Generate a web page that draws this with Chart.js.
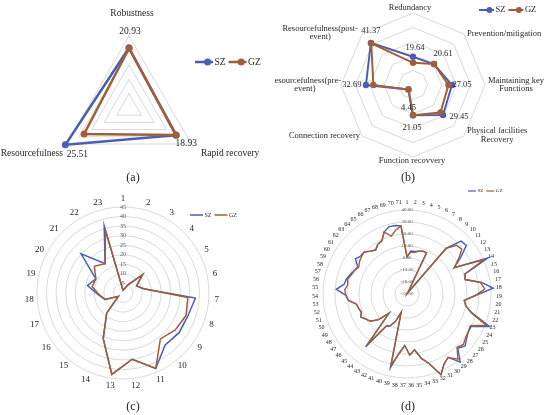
<!DOCTYPE html>
<html>
<head>
<meta charset="utf-8">
<script src="https://cdn.jsdelivr.net/npm/chart.js@4.4.1/dist/chart.umd.min.js"></script>
<style>
  body { margin: 0; background: #fff; }
  #page { position: relative; width: 550px; height: 415px; overflow: hidden; font-family: "Liberation Serif", serif; }
  canvas { position: absolute; }
  #chartA { left: 0; top: 0; }
  #chartB { left: 275px; top: 0; }
  #chartC { left: 0; top: 195px; }
  #chartD { left: 275px; top: 185px; }
  .cap { position: absolute; font-size: 12px; color: #222; transform: translate(-50%, -50%); }
</style>
</head>
<body>
<div id="page">
  <canvas id="chartA" width="275" height="195"></canvas>
  <canvas id="chartB" width="275" height="190"></canvas>
  <canvas id="chartC" width="275" height="220"></canvas>
  <canvas id="chartD" width="275" height="230"></canvas>
  <div class="cap" style="left:133px;top:177px">(a)</div>
  <div class="cap" style="left:408px;top:177px">(b)</div>
  <div class="cap" style="left:133px;top:406px">(c)</div>
  <div class="cap" style="left:408px;top:406px">(d)</div>
</div>
<script>
// (a) three dimensions
const dimLabels = ['Robustness', 'Rapid recovery', 'Resourcefulness'];
const dimSZ = [20.93, 18.93, 25.51];
const dimGZ = [20.7, 18.8, 18.0];

// (b) eight indicators
const indLabels = ['Redundancy', 'Prevention/mitigation', ['Maintaining key', 'Functions'],
  ['Physical facilities', 'Recovery'], 'Function recovvery', 'Connection recovery',
  ['Resourcefulness(pre-', 'event)'], ['Resourcefulness(post-', 'event)']];
const indSZ = [19.64, 20.61, 27.05, 29.45, 21.05, 4.45, 32.69, 41.37];
const indGZ = [15.4, 20.61, 24.6, 27.0, 21.05, 4.45, 27.5, 41.0];

// (c) 23 items
const itemLabels = ['1','2','3','4','5','6','7','8','9','10','11','12','13','14','15','16','17','18','19','20','21','22','23'];
const itemSZ = [1.5, 2, 5, 14, 8, 11, 38, 36, 36, 35, 43, 35, 43, 26, 13.5, 3, 10, 13, 19, 16, 30, 18, 36.5];
const itemGZ = [1.5, 2, 5, 14, 8, 11, 34, 35, 33.5, 31, 43, 35, 43, 26, 13.5, 3, 10, 12.5, 16.5, 16, 20.5, 18, 34];

// (d) 71 items
const subLabels = ['1','2','3','4','5','6','7','8','9','10','11','12','13','14','15','16','17','18','19','20',
  '21','22','23','24','25','26','27','28','29','30','31','32','33','34','35','36','37','38','39','40',
  '41','42','43','44','45','46','47','48','49','50','51','52','53','54','55','56','57','58','59','60',
  '61','62','63','64','65','66','67','68','69','70','71'];
const subSZ = [1, 6, 6, 7, 8, 8, -29, -28, 20, 33, 34, 24, 15, 44, 21, 20, 33, 42, 27, 18,
  20, 27, 44, 30, 30, 32, 35, 32, 42, 33, 36, 43, 31, 25, 17, 21, 13, 20, 33, -14,
  -5, 0, 2, 26, -8, 2, 8, 10, 13, 11, 12, 13, 19, 21, 29, 23, 22, 20, 18, 17,
  22, 20, 20, 17, 15, 18, 19, 25, 28, 28, 27];
const subGZ = [1, 5, 5, 7, 8, 8, -29, -28, 20, 28, 29, 22, 15, 40, 21, 20, 32, 35, 27, 18,
  20, 26, 41, 29, 30, 31, 33, 31, 39, 33, 36, 43, 31, 25, 17, 21, 13, 20, 31, -14,
  -5, 0, 2, 23, -8, 2, 8, 10, 13, 11, 12, 13, 19, 21, 22, 20, 21, 19, 18, 16,
  18, 19, 20, 17, 15, 18, 19, 25, 20, 24, 27];

const blue = '#4a5eb5';
const brown = '#9e5f3a';
const serif = '"Liberation Serif", serif';

const radarExtras = {
  id: 'radarExtras',
  afterDraw(chart, args, o) {
    const ctx = chart.ctx;
    const sc = chart.scales.r;
    ctx.save();
    ctx.textBaseline = 'middle';
    ctx.font = o.labelFont;
    ctx.fillStyle = '#262626';
    const lh = o.lineHeight;
    chart.data.labels.forEach((lab, i) => {
      const p = sc.getPointPosition(i, sc.drawingArea + o.labelGap);
      const nudge = (o.labelNudge && o.labelNudge[i]) || [0, 0];
      const lines = Array.isArray(lab) ? lab : [lab];
      const w = Math.max(...lines.map(t => ctx.measureText(t).width));
      const h = lines.length * lh;
      let cx = p.x, cy = p.y;
      if (!o.labelCentered) {
        const dx = p.x - sc.xCenter, dy = p.y - sc.yCenter;
        if (dx > 3) cx += w / 2;
        else if (dx < -3) cx -= w / 2;
        else cy += dy < 0 ? -h / 2 : h / 2;
      }
      cx += nudge[0];
      cy += nudge[1];
      ctx.textAlign = 'center';
      lines.forEach((t, k) => ctx.fillText(t, cx, cy - h / 2 + lh * (k + 0.5)));
    });

    if (o.values) {
      const meta = chart.getDatasetMeta(o.values.dataset);
      const data = chart.data.datasets[o.values.dataset].data;
      ctx.font = o.values.font;
      ctx.textAlign = 'center';
      meta.data.forEach((pt, i) => {
        const off = o.values.offsets[i];
        ctx.fillText(data[i].toFixed(2), pt.x + off[0], pt.y + off[1]);
      });
    }

    const lg = o.legend;
    if (lg) {
      ctx.font = lg.font;
      ctx.textAlign = 'left';
      let x = lg.x;
      chart.data.datasets.forEach(ds => {
        ctx.strokeStyle = ds.borderColor;
        ctx.lineWidth = lg.lineWidth;
        ctx.beginPath();
        ctx.moveTo(x, lg.y);
        ctx.lineTo(x + lg.lineLen, lg.y);
        ctx.stroke();
        if (lg.dot) {
          ctx.fillStyle = ds.borderColor;
          ctx.beginPath();
          ctx.arc(x + lg.lineLen * 0.7, lg.y, lg.dot, 0, Math.PI * 2);
          ctx.fill();
        }
        ctx.fillStyle = '#262626';
        x += lg.lineLen + 1.5;
        ctx.fillText(ds.label, x, lg.y);
        x += ctx.measureText(ds.label).width + lg.gap;
      });
    }
    ctx.restore();
  }
};

function series(label, data, color, order, width, radius) {
  return {
    label: label,
    data: data,
    borderColor: color,
    backgroundColor: color,
    borderWidth: width,
    pointRadius: radius,
    pointBorderWidth: 0,
    pointBackgroundColor: color,
    fill: false,
    order: order,
    clip: false
  };
}

function baseOptions(scale, padding, extras) {
  return {
    responsive: false,
    animation: false,
    devicePixelRatio: 1,
    layout: { padding: padding },
    plugins: { legend: { display: false }, tooltip: { enabled: false }, radarExtras: extras },
    elements: { line: { tension: 0 } },
    scales: { r: scale }
  };
}

new Chart(document.getElementById('chartA'), {
  type: 'radar',
  data: {
    labels: dimLabels,
    datasets: [series('SZ', dimSZ, blue, 1, 2.5, 3.5), series('GZ', dimGZ, brown, 0, 2.5, 3.5)]
  },
  options: baseOptions({
    min: 0, max: 25,
    ticks: { display: false, stepSize: 5 },
    grid: { color: '#d9d9d9', lineWidth: 1 },
    angleLines: { display: false },
    pointLabels: { display: false }
  }, { left: 57, top: 36, right: 74, bottom: 15 }, {
    labelFont: '9.5px ' + serif, lineHeight: 10, labelGap: 10,
    labelNudge: [[3, -8], [1, 4], [5, 4]],
    values: { dataset: 0, font: '9.5px ' + serif, offsets: [[1, -16], [10, 8], [12, 10]] },
    legend: { x: 195, y: 62, lineLen: 18, lineWidth: 2.5, dot: 3.5, gap: 3, font: '9.5px ' + serif }
  }),
  plugins: [radarExtras]
});

new Chart(document.getElementById('chartB'), {
  type: 'radar',
  data: {
    labels: indLabels,
    datasets: [series('SZ', indSZ, blue, 1, 2, 3.2), series('GZ', indGZ, brown, 0, 2, 3.2)]
  },
  options: baseOptions({
    min: 0, max: 50,
    ticks: { display: false, stepSize: 10 },
    grid: { color: '#d9d9d9', lineWidth: 1 },
    angleLines: { display: false },
    pointLabels: { display: false }
  }, { left: 66, top: 13, right: 65, bottom: 33 }, {
    labelFont: '8.5px ' + serif, lineHeight: 8.5, labelGap: 3,
    labelNudge: [[-3, 2], [1, 2], [0, 0], [1, -3], [-1, -3], [0, -2], [3, 0], [-2, 1]],
    values: { dataset: 0, font: '8.5px ' + serif,
      offsets: [[2, -9], [9, -10], [10, 0], [16, 2], [-1, 12], [0, 18], [-14, 0], [0, -12]] },
    legend: { x: 204, y: 10, lineLen: 15, lineWidth: 2, dot: 3, gap: 3, font: '8.5px ' + serif }
  }),
  plugins: [radarExtras]
});

new Chart(document.getElementById('chartC'), {
  type: 'radar',
  data: {
    labels: itemLabels,
    datasets: [series('SZ', itemSZ, blue, 1, 1.5, 0), series('GZ', itemGZ, brown, 0, 1.5, 0)]
  },
  options: baseOptions({
    min: 0, max: 45,
    ticks: { display: true, stepSize: 5, showLabelBackdrop: false, backdropPadding: 0,
      color: '#595959', font: { size: 6, family: serif } },
    grid: { color: '#d9d9d9', lineWidth: 1, circular: true },
    angleLines: { display: false },
    pointLabels: { display: false }
  }, { left: 34, top: 9, right: 63, bottom: 33 }, {
    labelFont: '9px ' + serif, lineHeight: 9, labelGap: 8, labelCentered: true,
    legend: { x: 190, y: 20, lineLen: 13, lineWidth: 1.5, dot: 0, gap: 3, font: '6px ' + serif }
  }),
  plugins: [radarExtras]
});

new Chart(document.getElementById('chartD'), {
  type: 'radar',
  data: {
    labels: subLabels,
    datasets: [series('SZ', subSZ, blue, 1, 1.4, 0), series('GZ', subGZ, brown, 0, 1.4, 0)]
  },
  options: baseOptions({
    min: -30, max: 40,
    ticks: { display: true, stepSize: 10, showLabelBackdrop: false, backdropPadding: 0,
      color: '#595959', font: { size: 5, family: serif }, callback: v => v.toFixed(2) },
    grid: { color: '#d9d9d9', lineWidth: 1, circular: true },
    angleLines: { display: false },
    pointLabels: { display: false }
  }, { left: 46, top: 23, right: 56, bottom: 34 }, {
    labelFont: '6px ' + serif, lineHeight: 6, labelGap: 8, labelCentered: true,
    legend: { x: 193, y: 6, lineLen: 8, lineWidth: 1.2, dot: 0, gap: 3, font: '5px ' + serif }
  }),
  plugins: [radarExtras]
});
</script>
</body>
</html>
